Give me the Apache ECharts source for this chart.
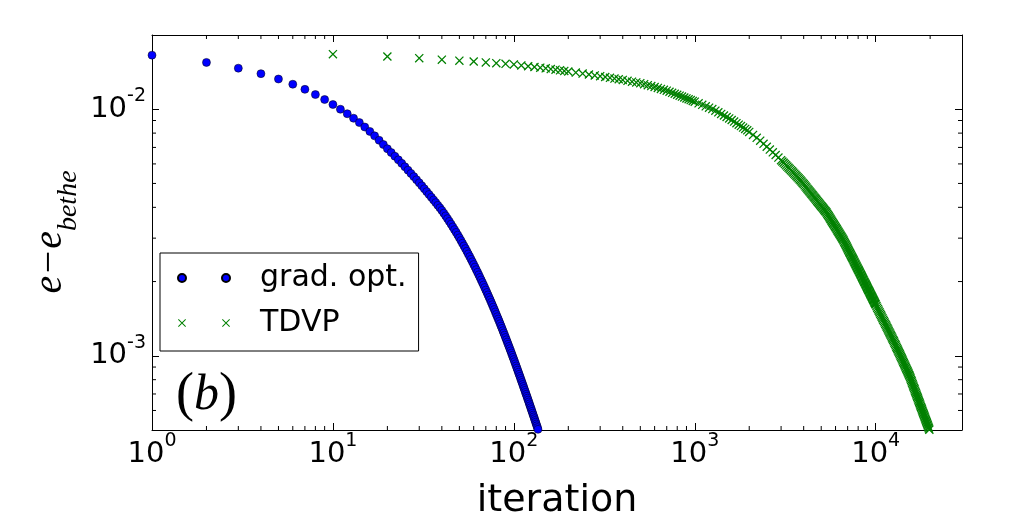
<!DOCTYPE html>
<html>
<head>
<meta charset="utf-8">
<script src="https://cdn.jsdelivr.net/npm/echarts@6/dist/echarts.min.js"></script>
<style>
  html, body { margin: 0; padding: 0; background: #fff; }
  #chart { width: 1012px; height: 512px; }
</style>
</head>
<body>
<div id="chart"></div>
<script>
// axis ranges
const xMin = 1, xMax = 30000;
const yMin = 5e-4, yMax = 2e-2;

// minor tick values (majors come from the log axes)
const xMinorTicks = [2, 3, 4, 5, 6, 7, 8, 9, 20, 30, 40, 50, 60, 70, 80, 90,
  200, 300, 400, 500, 600, 700, 800, 900, 2000, 3000, 4000, 5000, 6000, 7000, 8000, 9000, 20000];
const yMinorTicks = [6e-4, 7e-4, 8e-4, 9e-4, 2e-3, 3e-3, 4e-3, 5e-3, 6e-3, 7e-3, 8e-3, 9e-3];

// grad. opt. : one point per iteration
const gradIter = [1, 2, 3, 4, 5, 6, 7, 8, 9, 10, 11, 12, 13, 14, 15, 16, 17, 18, 19, 20,
  21, 22, 23, 24, 25, 26, 27, 28, 29, 30, 31, 32, 33, 34, 35, 36, 37, 38, 39, 40,
  41, 42, 43, 44, 45, 46, 47, 48, 49, 50, 51, 52, 53, 54, 55, 56, 57, 58, 59, 60,
  61, 62, 63, 64, 65, 66, 67, 68, 69, 70, 71, 72, 73, 74, 75, 76, 77, 78, 79, 80,
  81, 82, 83, 84, 85, 86, 87, 88, 89, 90, 91, 92, 93, 94, 95, 96, 97, 98, 99, 100,
  101, 102, 103, 104, 105, 106, 107, 108, 109, 110, 111, 112, 113, 114, 115, 116, 117, 118, 119, 120,
  121, 122, 123, 124, 125, 126, 127, 128, 129, 130, 131, 132, 133, 134, 135, 136, 137, 138, 139, 140];
const gradErr = [0.01657, 0.01548, 0.01467, 0.01394, 0.01326, 0.01263, 0.01204, 0.01147, 0.01095, 0.01045,
  0.01000, 0.009588, 0.009193, 0.008830, 0.008468, 0.008127, 0.007798, 0.007484, 0.007191, 0.006914,
  0.006673, 0.006446, 0.006233, 0.006031, 0.005841, 0.005661, 0.005491, 0.005329, 0.005175, 0.005029,
  0.004890, 0.004758, 0.004632, 0.004511, 0.004395, 0.004285, 0.004180, 0.004078, 0.003981, 0.003888,
  0.003789, 0.003693, 0.003599, 0.003508, 0.003419, 0.003332, 0.003248, 0.003166, 0.003086, 0.003009,
  0.002934, 0.002861, 0.002790, 0.002721, 0.002654, 0.002588, 0.002525, 0.002463, 0.002404, 0.002345,
  0.002289, 0.002235, 0.002181, 0.002129, 0.002079, 0.002030, 0.001983, 0.001937, 0.001892, 0.001848,
  0.001806, 0.001765, 0.001725, 0.001686, 0.001647, 0.001611, 0.001575, 0.001540, 0.001506, 0.001472,
  0.001440, 0.001409, 0.001379, 0.001349, 0.001320, 0.001292, 0.001264, 0.001238, 0.001212, 0.001186,
  0.001161, 0.001137, 0.001114, 0.001091, 0.001069, 0.001047, 0.001026, 0.001005, 0.0009851, 0.0009654,
  0.0009462, 0.0009274, 0.0009094, 0.0008917, 0.0008743, 0.0008576, 0.0008411, 0.0008252, 0.0008095, 0.0007943,
  0.0007795, 0.0007649, 0.0007508, 0.0007370, 0.0007236, 0.0007105, 0.0006978, 0.0006853, 0.0006731, 0.0006612,
  0.0006496, 0.0006381, 0.0006270, 0.0006161, 0.0006054, 0.0005950, 0.0005849, 0.0005750, 0.0005653, 0.0005559,
  0.0005465, 0.0005376, 0.0005286, 0.0005200, 0.0005113, 0.0005031, 0.0004948, 0.0004869, 0.0004792, 0.0004715];

// TDVP : sampled along the recorded iterations (rows of 10 line up with tdvpErr)
const tdvpIter = [
  10, 20, 30, 40, 50, 60, 70, 80, 90, 100,
  110, 120, 130, 140, 150, 160, 170, 180, 190, 200,
  220, 240, 260, 280, 300, 320, 340, 360, 380, 400,
  425, 450, 475, 500, 525, 550, 575, 600, 625, 650,
  675, 700, 725, 750, 775, 800, 825, 850, 875, 900,
  925, 950, 975, 1000, 1050, 1100, 1150, 1200, 1250, 1300,
  1350, 1400, 1450, 1500, 1550, 1600, 1650, 1700, 1750, 1800,
  1850, 1900, 1950, 2000, 2100, 2200, 2300, 2400, 2500, 2600,
  2700, 2800, 2900, 3000, 3050, 3100, 3150, 3200, 3250, 3300,
  3350, 3400, 3450, 3500, 3550, 3600, 3650, 3700, 3750, 3800,
  3850, 3900, 3950, 4000, 4050, 4100, 4150, 4200, 4250, 4300,
  4350, 4400, 4450, 4500, 4550, 4600, 4650, 4700, 4750, 4800,
  4850, 4900, 4950, 5000, 5050, 5100, 5150, 5200, 5250, 5300,
  5350, 5400, 5450, 5500, 5550, 5600, 5650, 5700, 5750, 5800,
  5850, 5900, 5950, 6000, 6050, 6100, 6150, 6200, 6250, 6300,
  6350, 6400, 6450, 6500, 6550, 6600, 6650, 6700, 6750, 6800,
  6850, 6900, 6950, 7000, 7050, 7100, 7150, 7200, 7250, 7300,
  7350, 7400, 7450, 7500, 7550, 7600, 7650, 7700, 7750, 7800,
  7850, 7900, 7950, 8000, 8050, 8100, 8150, 8200, 8250, 8300,
  8350, 8400, 8450, 8500, 8550, 8600, 8650, 8700, 8750, 8800,
  8850, 8900, 8950, 9000, 9050, 9100, 9150, 9200, 9250, 9300,
  9350, 9400, 9450, 9500, 9550, 9600, 9650, 9700, 9750, 9800,
  9850, 9900, 9950, 10000, 10100, 10200, 10300, 10400, 10500, 10600,
  10700, 10800, 10900, 11000, 11100, 11200, 11300, 11400, 11500, 11600,
  11700, 11800, 11900, 12000, 12100, 12200, 12300, 12400, 12500, 12600,
  12700, 12800, 12900, 13000, 13100, 13200, 13300, 13400, 13500, 13600,
  13700, 13800, 13900, 14000, 14100, 14200, 14300, 14400, 14500, 14600,
  14700, 14800, 14900, 15000, 15100, 15200, 15300, 15400, 15500, 15600,
  15700, 15800, 15900, 16000, 16100, 16200, 16300, 16400, 16500, 16600,
  16700, 16800, 16900, 17000, 17100, 17200, 17300, 17400, 17500, 17600,
  17700, 17800, 17900, 18000, 18100, 18200, 18300, 18400, 18500, 18600,
  18700, 18800, 18900, 19000, 19100, 19200, 19300, 19400, 19500, 19600,
  19700, 19800, 19900, 20000];
const tdvpErr = [
  0.016721, 0.016365, 0.016107, 0.015883, 0.015735, 0.015618, 0.015487, 0.015374, 0.015276, 0.015188,
  0.015059, 0.014941, 0.014834, 0.014736, 0.014645, 0.01455, 0.014461, 0.014378, 0.014299, 0.014225,
  0.014079, 0.013947, 0.013827, 0.013716, 0.013613, 0.013509, 0.01341, 0.013318, 0.013232, 0.01315,
  0.01304, 0.012938, 0.01284, 0.01275, 0.01263, 0.012518, 0.012411, 0.012309, 0.012197, 0.012089,
  0.011987, 0.011887, 0.011772, 0.011659, 0.011552, 0.011448, 0.01135, 0.011251, 0.011156, 0.011063,
  0.010974, 0.010889, 0.010806, 0.010726, 0.010567, 0.010418, 0.010277, 0.010144, 0.010018, 0.0098644,
  0.0097124, 0.0095685, 0.0094306, 0.0093011, 0.0091768, 0.0090415, 0.0089082, 0.0087802, 0.008658, 0.0085409,
  0.0084282, 0.0083203, 0.0082082, 0.0080885, 0.0078631, 0.0076535, 0.0074544, 0.0072412, 0.0070431, 0.006858,
  0.0066841, 0.0065211, 0.0063675, 0.006215, 0.0061385, 0.0060646, 0.0059934, 0.0059225, 0.0058549, 0.0057884,
  0.005724, 0.0056604, 0.0055991, 0.005539, 0.0054779, 0.0054176, 0.0053594, 0.0053024, 0.0052464, 0.0051921,
  0.0051386, 0.0050844, 0.005026, 0.0049688, 0.0049127, 0.0048581, 0.0048046, 0.0047522, 0.0047015, 0.0046515,
  0.0046028, 0.0045556, 0.0045087, 0.0044628, 0.0044181, 0.0043745, 0.0043314, 0.0042894, 0.0042484, 0.0042085,
  0.0041685, 0.0041297, 0.0040921, 0.0040548, 0.0040178, 0.0039818, 0.0039467, 0.0039117, 0.0038779, 0.003845,
  0.0038104, 0.0037681, 0.0037266, 0.0036858, 0.0036466, 0.0036078, 0.0035697, 0.0035323, 0.0034957, 0.0034595,
  0.0034239, 0.0033897, 0.0033555, 0.0033216, 0.0032893, 0.0032571, 0.0032254, 0.0031944, 0.0031641, 0.0031338,
  0.0031047, 0.0030755, 0.0030472, 0.0030188, 0.0029916, 0.002964, 0.002932, 0.0028991, 0.0028691, 0.0028377,
  0.0028083, 0.0027782, 0.0027499, 0.0027206, 0.0026937, 0.002665, 0.0026388, 0.0026115, 0.0025863, 0.0025598,
  0.0025351, 0.0025098, 0.002486, 0.0024608, 0.0024381, 0.002414, 0.0023923, 0.0023689, 0.0023475, 0.0023249,
  0.0023043, 0.0022822, 0.002262, 0.0022408, 0.0022215, 0.0022008, 0.002182, 0.0021627, 0.002143, 0.0021244,
  0.0021052, 0.0020874, 0.0020687, 0.0020509, 0.0020331, 0.0020163, 0.0019986, 0.0019821, 0.0019653, 0.0019489,
  0.0019323, 0.0019167, 0.0019008, 0.0018853, 0.0018699, 0.0018548, 0.0018398, 0.0018251, 0.0018106, 0.0017967,
  0.0017821, 0.0017682, 0.0017545, 0.001741, 0.0017275, 0.0017144, 0.001701, 0.0016883, 0.0016755, 0.0016631,
  0.0016504, 0.0016384, 0.0016259, 0.0016142, 0.0015906, 0.0015674, 0.001545, 0.0015233, 0.0015013, 0.0014808,
  0.00146, 0.0014402, 0.0014206, 0.0014016, 0.0013827, 0.0013646, 0.0013465, 0.0013291, 0.0013118, 0.0012953,
  0.0012789, 0.0012628, 0.0012472, 0.0012316, 0.0012167, 0.001202, 0.0011875, 0.0011733, 0.001159, 0.0011443,
  0.0011301, 0.001116, 0.0011023, 0.001089, 0.0010757, 0.0010629, 0.0010501, 0.0010379, 0.0010256, 0.0010137,
  0.0010018, 0.0009901, 0.0009787, 0.0009673, 0.0009562, 0.00094545, 0.0009346, 0.00092417, 0.0009138, 0.00090373,
  0.0008939, 0.00088407, 0.0008744, 0.00086518, 0.0008557, 0.00084676, 0.0008377, 0.00082903, 0.0008184, 0.0008081,
  0.0007976, 0.00078756, 0.0007777, 0.00076794, 0.0007584, 0.00074921, 0.0007399, 0.00073096, 0.0007222, 0.00071353,
  0.000705, 0.0006966, 0.0006883, 0.00068039, 0.0006724, 0.00066461, 0.0006568, 0.00064939, 0.0006419, 0.00063464,
  0.0006275, 0.00062037, 0.0006134, 0.00060673, 0.0006, 0.00059347, 0.000587, 0.00058059, 0.0005743, 0.00056814,
  0.0005621, 0.00055615, 0.0005502, 0.00054452, 0.0005387, 0.00053319, 0.0005275, 0.00052244, 0.0005168, 0.00051184,
  0.0005065, 0.00050154, 0.0004963, 0.00049186];

const gradData = gradIter.map((x, i) => [x, gradErr[i]]);
const tdvpData = tdvpIter.map((x, i) => [x, tdvpErr[i]]);

// thin "x" marker as a filled outline, 8x8 box
const crossPath = 'path://M0,0.8L0.8,0L8,7.2L7.2,8ZM7.2,0L8,0.8L0.8,8L0,7.2Z';
const twoDots = 'path://M0,4A4,4,0,1,1,8,4A4,4,0,1,1,0,4ZM44,4A4,4,0,1,1,52,4A4,4,0,1,1,44,4Z';
const twoCrosses = 'path://M0,0.7L0.7,0L8,7.3L7.3,8ZM7.3,0L8,0.7L0.7,8L0,7.3Z' +
  'M44,0.7L44.7,0L52,7.3L51.3,8ZM51.3,0L52,0.7L44.7,8L44,7.3Z';

// "10^n" labels, only on whole decades
function decadeLabel(v) {
  const e = Math.round(Math.log10(v));
  if (Math.abs(v / Math.pow(10, e) - 1) > 1e-6) return '';
  return '{b|10}{s|' + e + '}';
}
// superscript is lifted with bottom padding (tokens are centred on the line)
const labelRich = {
  b: { fontFamily: 'DejaVu Sans', fontSize: 29, lineHeight: 30, color: '#000' },
  s: { fontFamily: 'DejaVu Sans', fontSize: 19, lineHeight: 20, padding: [0, 0, 26, 0], color: '#000' }
};
const frame = { show: true, onZero: false, lineStyle: { color: '#000', width: 1 } };
const majorTick = { show: true, inside: true, length: 7, lineStyle: { color: '#000', width: 1 } };

function minorX(params, api) {
  const b = api.coord([api.value(0), yMin]);
  const t = api.coord([api.value(0), yMax]);
  const st = { stroke: '#000', lineWidth: 1 };
  return { type: 'group', children: [
    { type: 'line', shape: { x1: b[0], y1: b[1], x2: b[0], y2: b[1] - 4 }, style: st },
    { type: 'line', shape: { x1: t[0], y1: t[1], x2: t[0], y2: t[1] + 4 }, style: st }
  ] };
}
function minorY(params, api) {
  const l = api.coord([xMin, api.value(1)]);
  const r = api.coord([xMax, api.value(1)]);
  const st = { stroke: '#000', lineWidth: 1 };
  return { type: 'group', children: [
    { type: 'line', shape: { x1: l[0], y1: l[1], x2: l[0] + 4, y2: l[1] }, style: st },
    { type: 'line', shape: { x1: r[0], y1: r[1], x2: r[0] - 4, y2: r[1] }, style: st }
  ] };
}

const chart = echarts.init(document.getElementById('chart'));
chart.setOption({
  animation: false,
  backgroundColor: '#fff',
  grid: { left: 152, top: 35, width: 810, height: 395, outerBoundsMode: 'none', containLabel: false },
  xAxis: [
    {
      type: 'log', logBase: 10, min: xMin, max: xMax, position: 'bottom',
      axisLine: frame, axisTick: majorTick, splitLine: { show: false },
      axisLabel: { formatter: decadeLabel, rich: labelRich, margin: 9 },
      name: 'iteration', nameLocation: 'middle', nameGap: 52,
      nameTextStyle: { fontFamily: 'DejaVu Sans', fontSize: 38, color: '#000' }
    },
    {
      type: 'log', logBase: 10, min: xMin, max: xMax, position: 'top',
      axisLine: frame, axisTick: majorTick, splitLine: { show: false },
      axisLabel: { show: false }
    }
  ],
  yAxis: [
    {
      type: 'log', logBase: 10, min: yMin, max: yMax, position: 'left',
      axisLine: frame, axisTick: majorTick, splitLine: { show: false },
      axisLabel: { formatter: decadeLabel, rich: labelRich, margin: 6 }
    },
    {
      type: 'log', logBase: 10, min: yMin, max: yMax, position: 'right',
      axisLine: frame, axisTick: majorTick, splitLine: { show: false },
      axisLabel: { show: false }
    }
  ],
  legend: {
    data: [{ name: 'grad. opt.', icon: twoDots }, { name: 'TDVP', icon: twoCrosses }],
    orient: 'vertical', left: 160, top: 253,
    itemWidth: 52, itemHeight: 8, itemGap: 15,
    padding: [10, 12, 13, 17],
    borderColor: '#000', borderWidth: 1, borderRadius: 0, backgroundColor: '#fff',
    selectedMode: false,
    textStyle: { fontFamily: 'DejaVu Sans', fontSize: 30, color: '#000', lineHeight: 30, padding: [0, 0, 0, 25] }
  },
  graphic: [
    {
      type: 'text', x: 50, y: 232, rotation: Math.PI / 2,
      style: {
        text: '{m|e\u2212e}{s|bethe}', align: 'center', verticalAlign: 'middle',
        rich: {
          m: { fontFamily: 'Liberation Serif', fontStyle: 'italic', fontSize: 40, lineHeight: 44, fill: '#000' },
          s: { fontFamily: 'Liberation Serif', fontStyle: 'italic', fontSize: 28, lineHeight: 30, padding: [37, 0, 0, 0], fill: '#000' }
        }
      }
    },
    {
      type: 'text', x: 176, y: 396, z: 10,
      style: {
        text: '{p|(}{i|b}{p|)}', verticalAlign: 'middle',
        rich: {
          p: { fontFamily: 'Liberation Serif', fontSize: 54, fill: '#000' },
          i: { fontFamily: 'Liberation Serif', fontStyle: 'italic', fontSize: 50, fill: '#000' }
        }
      }
    }
  ],
  series: [
    {
      name: 'grad. opt.', type: 'scatter', data: gradData,
      symbol: 'circle', symbolSize: 8,
      itemStyle: { color: '#0000ff', borderColor: '#000', borderWidth: 0.5, opacity: 1 }
    },
    {
      name: 'TDVP', type: 'scatter', data: tdvpData,
      symbol: crossPath, symbolSize: 9,
      itemStyle: { color: '#008000', opacity: 1 }
    },
    {
      name: 'xminor', type: 'custom', renderItem: minorX, silent: true, clip: false,
      data: xMinorTicks.map(v => [v, yMin])
    },
    {
      name: 'yminor', type: 'custom', renderItem: minorY, silent: true, clip: false,
      data: yMinorTicks.map(v => [xMin, v])
    }
  ]
});
</script>
</body>
</html>
